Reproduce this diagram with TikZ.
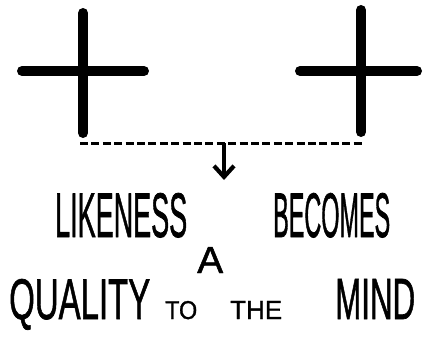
\documentclass[tikz,border=0pt]{standalone}
\usepackage{fontspec}
\usepackage{graphicx}
\setmainfont{Liberation Sans}
\newfontfamily\lettering[FakeBold=1.3]{Liberation Sans}
\usetikzlibrary{arrows.meta}
% word squeezed to a given width and cap height, like the hand lettering
\newcommand{\fitword}[3]{\resizebox{#1pt}{#2pt}{\lettering #3}}
\tikzset{
  % --- the two crosses -------------------------------------------------------
  bar/.style={line width=10pt,line cap=round},
  % --- dashed link and arrow ---------------------------------------------------
  link/.style={line width=3pt,dash pattern=on 8pt off 3.4pt},
  down/.style={line width=4.2pt,-{Straight Barb[length=11pt,width=20pt]}},
  % --- lettering ---------------------------------------------------------------
  word/.style={inner sep=0pt,anchor=base west},
}

\begin{document}
\begin{tikzpicture}[x=1pt, y=-1pt]
  \useasboundingbox (0,0) rectangle (423,337);

  % left cross
  \coordinate (lt) at (83,13);   \coordinate (lb) at (83,133);
  \coordinate (ll) at (22,71);   \coordinate (lr) at (144,71);
  \draw[bar] (lt) -- (lb);
  \draw[bar] (ll) -- (lr);

  % right cross
  \coordinate (rt) at (361,10);  \coordinate (rb) at (361,132);
  \coordinate (rl) at (300,71);  \coordinate (rr) at (417,71);
  \draw[bar] (rt) -- (rb);
  \draw[bar] (rl) -- (rr);

  % likeness link
  \coordinate (dl) at (80,143);  \coordinate (dr) at (364,143);
  \coordinate (dm) at (224,143); \coordinate (tip) at (224,180);
  \draw[link] (dl) -- (dr);
  \draw[down] (dm) -- (tip);

  \node[word] (likeness) at (55,237)  {\fitword{132}{44}{LIKENESS}};
  \node[word] (becomes)  at (273,237) {\fitword{117}{44}{BECOMES}};
  \node[word] (wordA)    at (197,273) {\fitword{26}{26}{A}};
  \node[word] (quality)  at (9,319)   {\fitword{141}{40}{QUALITY}};
  \node[word] (to)       at (165,319) {\fitword{32}{18}{TO}};
  \node[word] (the)      at (230,319) {\fitword{52}{18}{THE}};
  \node[word] (mind)     at (335,319) {\fitword{80}{40}{MIND}};
\end{tikzpicture}
\end{document}
